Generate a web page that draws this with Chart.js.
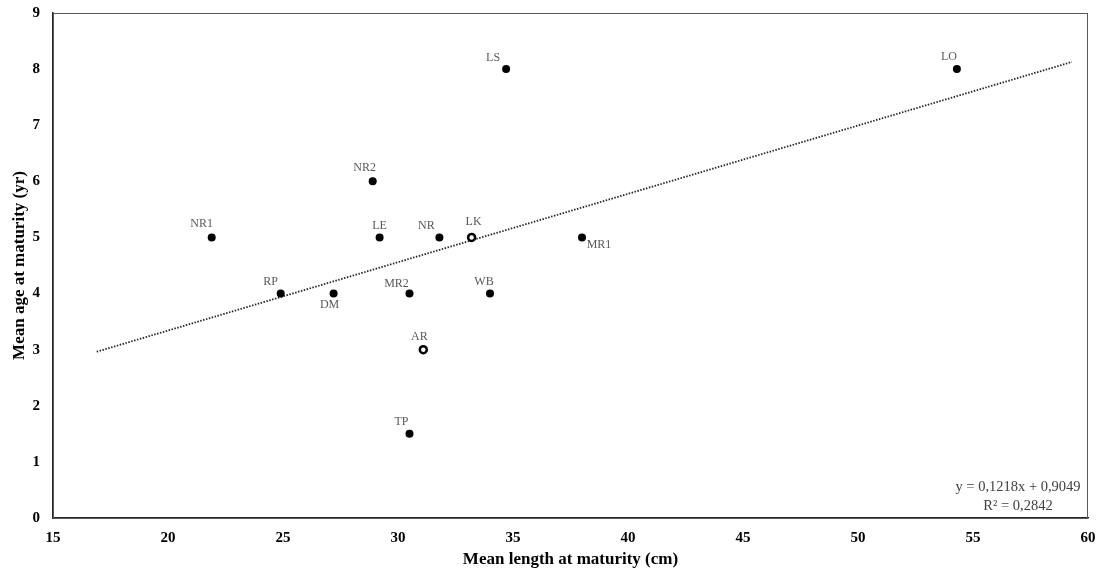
<!DOCTYPE html>
<html>
<head>
<meta charset="utf-8">
<title>Age vs length at maturity</title>
<script src="https://cdn.jsdelivr.net/npm/chart.js@4/dist/chart.umd.min.js"></script>
<style>
  html, body { margin: 0; padding: 0; background: #fff; }
  #wrap { width: 1100px; height: 574px; }
</style>
</head>
<body>
<div id="wrap"><canvas id="maturityChart"></canvas></div>
<script>
// sites, mean length (cm) and mean age (yr) at maturity
const siteNames = ['NR1', 'RP', 'DM', 'NR2', 'LE', 'NR', 'LK', 'MR2', 'WB', 'AR', 'TP', 'MR1', 'LS', 'LO'];
const lengthAtMaturity = [21.9, 24.9, 27.2, 28.9, 29.2, 31.8, 33.2, 30.5, 34.0, 31.1, 30.5, 38.0, 34.7, 54.3];
const ageAtMaturity = [5, 4, 4, 6, 5, 5, 5, 4, 4, 3, 1.5, 5, 8, 8];
const hollowSites = ['LK', 'AR'];

// linear trend (forecast 5 cm either side of the data)
const trendSlope = 0.1218;
const trendIntercept = 0.9049;
const trendR2 = 0.2842;
const trendFrom = 16.9;
const trendTo = 59.3;

const xTicks = [15, 20, 25, 30, 35, 40, 45, 50, 55, 60];
const yTicks = [0, 1, 2, 3, 4, 5, 6, 7, 8, 9];

const serif = "'Liberation Serif', 'Times New Roman', serif";

function pointsFor(hollow) {
    const pts = [];
    siteNames.forEach((name, i) => {
        if (hollowSites.includes(name) === hollow) {
            pts.push({ x: lengthAtMaturity[i], y: ageAtMaturity[i], name: name });
        }
    });
    return pts;
}

const trendPoints = [trendFrom, trendTo].map(x => ({ x: x, y: trendSlope * x + trendIntercept }));

const fmt = v => v.toFixed(4).replace('.', ',');

// where each site label sits relative to its marker
const labelOffsets = {
    NR1: [-10, -14], RP: [-10, -12], DM: [-4, 11], NR2: [-8, -13], LE: [0, -12],
    NR: [-13, -12], LK: [2, -16], MR2: [-13, -10], WB: [-6, -12], AR: [-4, -13],
    TP: [-8, -12], MR1: [17, 7], LS: [-13, -11], LO: [-8, -12]
};

const extrasPlugin = {
    id: 'extras',
    afterDraw(chart) {
        const { ctx, chartArea, scales } = chart;
        ctx.save();
        // plot frame
        ctx.strokeStyle = '#595959';
        ctx.lineWidth = 1;
        ctx.strokeRect(chartArea.left + 0.5, chartArea.top + 0.5,
            chartArea.right - chartArea.left - 1, chartArea.bottom - chartArea.top);

        // site labels
        ctx.font = '12px ' + serif;
        ctx.fillStyle = '#595959';
        ctx.textAlign = 'center';
        ctx.textBaseline = 'middle';
        siteNames.forEach((name, i) => {
            const px = scales.x.getPixelForValue(lengthAtMaturity[i]);
            const py = scales.y.getPixelForValue(ageAtMaturity[i]);
            const off = labelOffsets[name] || [0, -12];
            ctx.fillText(name, px + off[0], py + off[1]);
        });

        // trend equation
        ctx.font = '14.5px ' + serif;
        ctx.fillStyle = '#404040';
        const cx = chartArea.right - 70;
        ctx.fillText('y = ' + fmt(trendSlope) + 'x + ' + fmt(trendIntercept), cx, chartArea.bottom - 31);
        ctx.fillText('R\u00b2 = ' + fmt(trendR2), cx, chartArea.bottom - 12);
        ctx.restore();
    }
};

new Chart(document.getElementById('maturityChart'), {
    type: 'scatter',
    data: {
        datasets: [
            {
                type: 'line',
                data: trendPoints,
                borderColor: '#262626',
                borderWidth: 1.8,
                borderDash: [1.5, 1.5],
                pointRadius: 0,
                fill: false,
                order: 3
            },
            {
                data: pointsFor(false),
                pointRadius: 4,
                pointBackgroundColor: '#000',
                pointBorderColor: '#000',
                pointBorderWidth: 0,
                order: 1
            },
            {
                data: pointsFor(true),
                pointRadius: 3.5,
                pointBackgroundColor: '#fff',
                pointBorderColor: '#000',
                pointBorderWidth: 2.5,
                order: 0
            }
        ]
    },
    options: {
        responsive: true,
        maintainAspectRatio: false,
        animation: false,
        events: [],
        layout: { padding: { top: 0, right: 0, bottom: 4, left: 9 } },
        plugins: {
            legend: { display: false },
            tooltip: { enabled: false }
        },
        scales: {
            x: {
                type: 'linear',
                min: 15,
                max: 60,
                afterBuildTicks: axis => { axis.ticks = xTicks.map(v => ({ value: v })); },
                afterFit: axis => {
                    axis.height = 52;
                    axis.paddingLeft = 0;
                    axis.paddingRight = 12;
                },
                grid: { display: false, drawTicks: false },
                border: { display: true, color: '#262626', width: 1.5 },
                ticks: {
                    padding: 11,
                    color: '#000',
                    font: { family: serif, size: 15, weight: 'bold' }
                },
                title: {
                    display: true,
                    text: 'Mean length at maturity (cm)',
                    color: '#000',
                    padding: { top: 4, bottom: 0 },
                    font: { family: serif, size: 17, weight: 'bold' }
                }
            },
            y: {
                type: 'linear',
                min: 0,
                max: 9,
                afterBuildTicks: axis => { axis.ticks = yTicks.map(v => ({ value: v })); },
                afterFit: axis => {
                    axis.width = 44;
                    axis.paddingTop = 13;
                    axis.paddingBottom = 0;
                },
                grid: { display: false, drawTicks: false },
                border: { display: true, color: '#262626', width: 1.5 },
                ticks: {
                    padding: 13,
                    color: '#000',
                    font: { family: serif, size: 15, weight: 'bold' }
                },
                title: {
                    display: true,
                    text: 'Mean age at maturity (yr)',
                    color: '#000',
                    padding: { top: 0, bottom: 0 },
                    font: { family: serif, size: 17, weight: 'bold' }
                }
            }
        }
    },
    plugins: [extrasPlugin]
});
</script>
</body>
</html>
